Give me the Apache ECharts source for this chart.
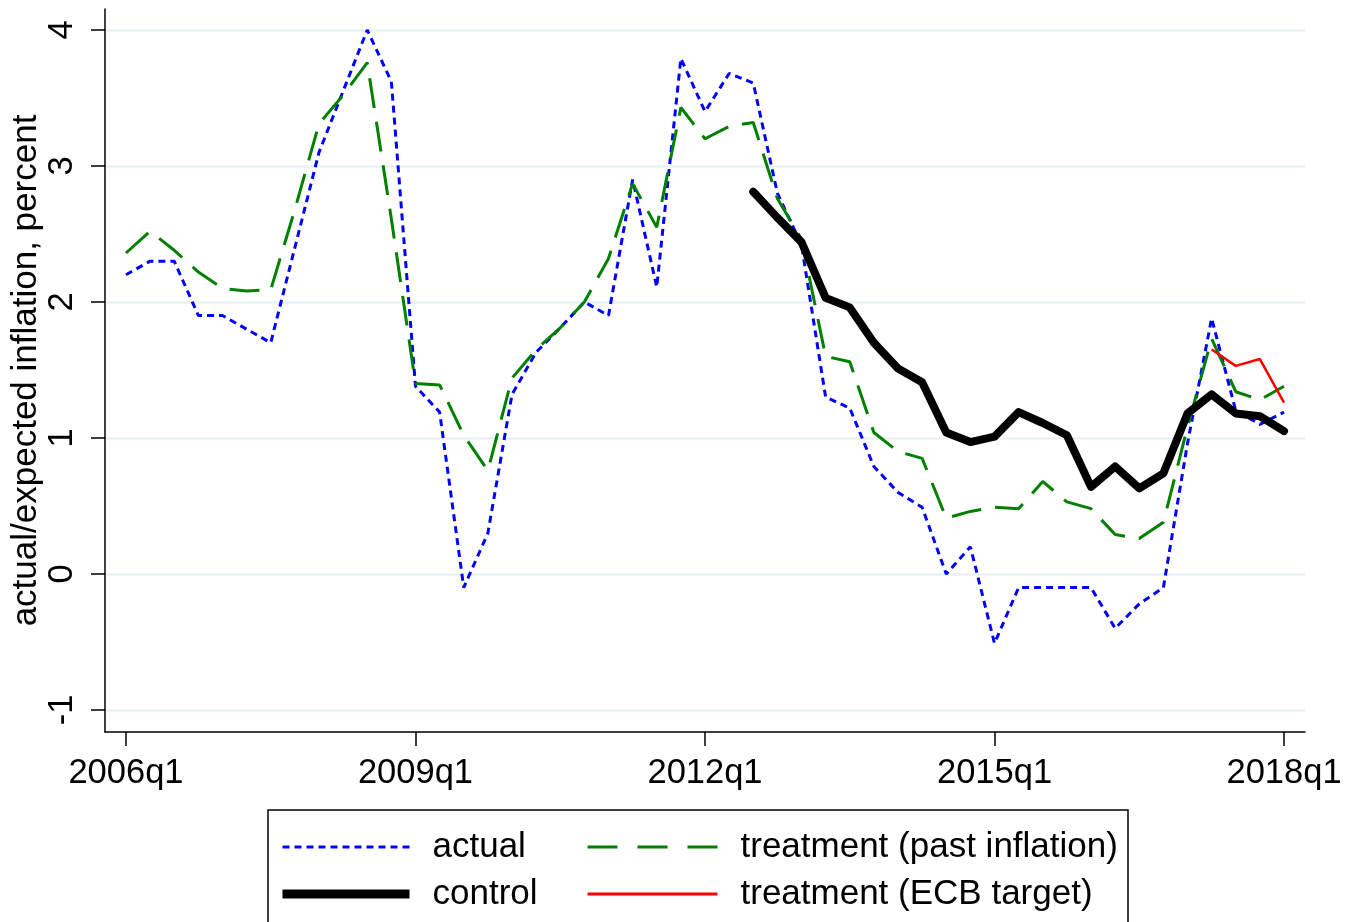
<!DOCTYPE html>
<html>
<head>
<meta charset="utf-8">
<title>actual vs expected inflation</title>
<script src="https://cdn.jsdelivr.net/npm/echarts@6/dist/echarts.min.js"></script>
<style>
  html, body { margin: 0; padding: 0; background: #fff; }
  #chart { width: 1352px; height: 922px; }
</style>
</head>
<body>
<div id="chart"></div>
<script>
  // quarters since 2006q1 (0 = 2006q1 ... 48 = 2018q1)
  var tickValues = [0, 12, 24, 36, 48];
  var tickLabels = ['2006q1', '2009q1', '2012q1', '2015q1', '2018q1'];
  var yTicks = [-1, 0, 1, 2, 3, 4];

  var actual = [2.2, 2.3, 2.3, 1.9, 1.9, 1.8, 1.7, 2.4, 3.1, 3.55, 4.0, 3.62,
    1.38, 1.19, -0.1, 0.3, 1.32, 1.63, 1.81, 2.0, 1.9, 2.9, 2.11, 3.79,
    3.4, 3.68, 3.61, 2.8, 2.42, 1.3, 1.22, 0.79, 0.6, 0.49, 0.0, 0.2,
    -0.51, -0.1, -0.1, -0.1, -0.1, -0.4, -0.22, -0.1, 0.96, 1.88, 1.2, 1.1, 1.19];

  var pastInfl = [2.36, 2.52, 2.38, 2.22, 2.1, 2.08, 2.09, 2.68, 3.31, 3.52, 3.76, 2.61,
    1.4, 1.39, 1.02, 0.76, 1.44, 1.65, 1.81, 2.0, 2.32, 2.87, 2.55, 3.43,
    3.2, 3.29, 3.32, 2.76, 2.46, 1.6, 1.56, 1.04, 0.9, 0.85, 0.41, 0.46,
    0.49, 0.48, 0.68, 0.53, 0.48, 0.29, 0.26, 0.38, 1.08, 1.73, 1.34, 1.28, 1.38];

  var control = [null, null, null, null, null, null, null, null, null, null, null, null,
    null, null, null, null, null, null, null, null, null, null, null, null,
    null, null, 2.81, 2.62, 2.44, 2.03, 1.96, 1.7, 1.51, 1.41, 1.04, 0.97,
    1.01, 1.19, 1.11, 1.02, 0.64, 0.79, 0.63, 0.74, 1.18, 1.32, 1.18, 1.16, 1.05];

  var ecbTarget = [null, null, null, null, null, null, null, null, null, null, null, null,
    null, null, null, null, null, null, null, null, null, null, null, null,
    null, null, null, null, null, null, null, null, null, null, null, null,
    null, null, null, null, null, null, null, null, null, 1.65, 1.53, 1.58, 1.26];

  function toPairs(arr) {
    var out = [];
    for (var i = 0; i < arr.length; i++) {
      if (arr[i] !== null) out.push([i, arr[i]]);
    }
    return out;
  }

  var FONT = "'Liberation Sans', Arial, sans-serif";
  var legendText = { color: '#000', fontSize: 35, lineHeight: 40, fontFamily: FONT, padding: [0, 0, 0, 18] };
  var noDot = { opacity: 0 };
  var chart = echarts.init(document.getElementById('chart'));

  var option = {
    backgroundColor: '#fff',
    animation: false,
    grid: { left: 105, right: 47, top: 9, bottom: 190, containLabel: false, outerBoundsMode: 'none' },
    xAxis: {
      type: 'value',
      min: -0.87,
      max: 48.87,
      axisLine: { show: true, onZero: false, lineStyle: { color: '#000', width: 1.5 } },
      axisTick: { show: true, length: 14, customValues: tickValues, lineStyle: { color: '#000', width: 1.5 } },
      axisLabel: {
        customValues: tickValues,
        margin: 24,
        color: '#000',
        fontSize: 34.5,
        fontFamily: FONT,
        formatter: function (v) { return tickLabels[tickValues.indexOf(v)]; }
      },
      splitLine: { show: false }
    },
    yAxis: {
      type: 'value',
      min: -1.162,
      max: 4.154,
      name: 'actual/expected inflation, percent',
      nameLocation: 'middle',
      nameGap: 61,
      nameMoveOverlap: false,
      nameTextStyle: { color: '#000', fontSize: 35, fontFamily: FONT },
      axisLine: { show: true, onZero: false, lineStyle: { color: '#000', width: 1.5 } },
      axisTick: { show: true, length: 14, customValues: yTicks, lineStyle: { color: '#000', width: 1.5 } },
      axisLabel: {
        customValues: yTicks,
        rotate: 90,
        margin: 25,
        color: '#000',
        fontSize: 34.5,
        fontFamily: FONT
      },
      splitLine: { show: true, lineStyle: { color: '#eaf2f3', width: 2.5 } }
    },
    legend: [
      {
        orient: 'vertical',
        left: 273,
        top: 822,
        itemWidth: 127,
        itemHeight: 14,
        itemGap: 7,
        textStyle: legendText,
        data: [
          { name: 'actual', itemStyle: noDot, lineStyle: { color: '#0000ff', width: 3, type: [7, 5], cap: 'butt' } },
          { name: 'control', itemStyle: noDot, lineStyle: { color: '#000', width: 9, type: 'solid', cap: 'butt' } }
        ]
      },
      {
        orient: 'vertical',
        left: 581,
        top: 822,
        itemWidth: 130,
        itemHeight: 14,
        itemGap: 7,
        textStyle: legendText,
        data: [
          { name: 'treatment (past inflation)', itemStyle: noDot, lineStyle: { color: '#008000', width: 3, type: [30, 20], cap: 'butt' } },
          { name: 'treatment (ECB target)', itemStyle: noDot, lineStyle: { color: '#ff0000', width: 3, type: 'solid', cap: 'butt' } }
        ]
      }
    ],
    graphic: [
      {
        type: 'rect',
        z: -1,
        shape: { x: 268, y: 810, width: 860, height: 130 },
        style: { fill: '#fff', stroke: '#000', lineWidth: 1.5 }
      }
    ],
    series: [
      {
        name: 'actual',
        type: 'line',
        data: toPairs(actual),
        showSymbol: false,
        symbol: 'none',
        lineStyle: { color: '#0000ff', width: 3, type: [7, 5] },
        itemStyle: { color: '#0000ff' },
        z: 2
      },
      {
        name: 'treatment (past inflation)',
        type: 'line',
        data: toPairs(pastInfl),
        showSymbol: false,
        symbol: 'none',
        lineStyle: { color: '#008000', width: 3, type: [30, 14] },
        itemStyle: { color: '#008000' },
        z: 3
      },
      {
        name: 'control',
        type: 'line',
        data: toPairs(control),
        showSymbol: false,
        symbol: 'none',
        lineStyle: { color: '#000', width: 8, cap: 'round', join: 'round' },
        itemStyle: { color: '#000' },
        z: 4
      },
      {
        name: 'treatment (ECB target)',
        type: 'line',
        data: toPairs(ecbTarget),
        showSymbol: false,
        symbol: 'none',
        lineStyle: { color: '#ff0000', width: 2.5 },
        itemStyle: { color: '#ff0000' },
        z: 5
      }
    ]
  };

  chart.setOption(option);
</script>
</body>
</html>
